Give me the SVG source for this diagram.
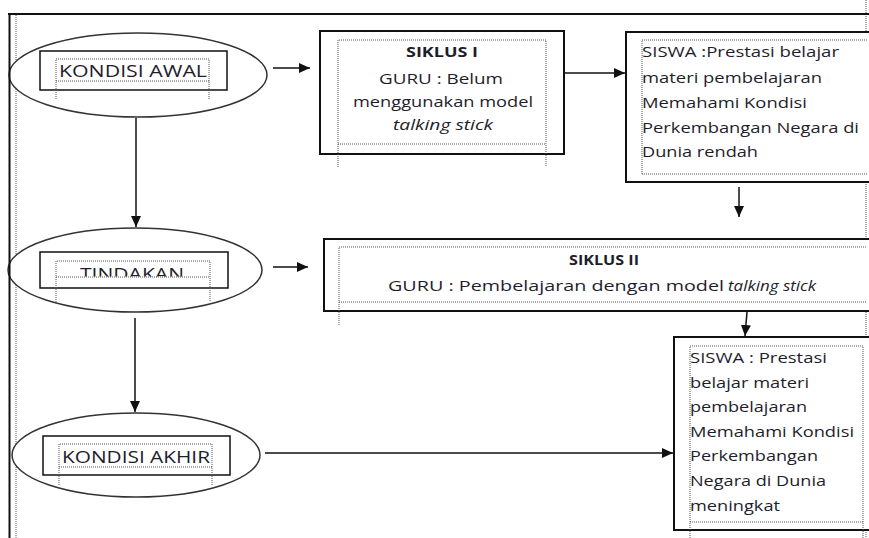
<svg xmlns="http://www.w3.org/2000/svg" width="869" height="538" viewBox="0 0 869 538">
  <style>
    .frame{stroke:#111;stroke-width:2;fill:none}
    .dot{stroke:#555;stroke-width:1;stroke-dasharray:1 1;fill:none}
    .box{fill:#fff;stroke:#111;stroke-width:2}
    .oval{fill:#fff;stroke:#333;stroke-width:1.5}
    .t{font-family:"Open Sans","Liberation Sans",sans-serif;font-size:15px;fill:#1f1d2c}
    .lbl{font-size:17px}
    .b{font-weight:bold;font-size:14px}
    .i{font-style:italic}
    .mid{text-anchor:middle}
    #connectors line{stroke:#111;stroke-width:1.5}
  </style>
  <defs>
    <marker id="ah" markerUnits="userSpaceOnUse" markerWidth="11" markerHeight="10" refX="11" refY="5" orient="auto">
      <path d="M0,0 L11,5 L0,10 z" fill="#111"/>
    </marker>
    <clipPath id="clipTindakan"><rect x="40" y="250" width="190" height="26.5"/></clipPath>
  </defs>
  <rect width="869" height="538" fill="#fff"/>

  <!-- page frame (dotted guides) -->
  <g id="frame-guides">
    <line class="dot" x1="16" y1="15" x2="16" y2="538"/>
    <line class="dot" x1="866" y1="0" x2="866" y2="538"/>
  </g>

  <!-- KONDISI AWAL -->
  <g id="kondisi-awal">
    <ellipse class="oval" cx="138" cy="75" rx="129" ry="42"/>
    <rect class="box" x="40" y="51" width="187" height="39" style="stroke-width:1.5"/>
    <path class="dot" d="M56,99 V59 H209 V99 M56,81 H209"/>
    <text class="t lbl mid" x="133" y="77" textLength="148" lengthAdjust="spacingAndGlyphs">KONDISI AWAL</text>
  </g>

  <!-- TINDAKAN -->
  <g id="tindakan">
    <ellipse class="oval" cx="135" cy="270" rx="127" ry="42"/>
    <rect class="box" x="40" y="252" width="188" height="36" style="stroke-width:1.5"/>
    <path class="dot" d="M56,302 V261 H210 V302 M56,277 H210"/>
    <text class="t lbl mid" x="132" y="280" textLength="104" lengthAdjust="spacingAndGlyphs" clip-path="url(#clipTindakan)">TINDAKAN</text>
  </g>

  <!-- KONDISI AKHIR -->
  <g id="kondisi-akhir">
    <ellipse class="oval" cx="136" cy="455" rx="124" ry="42"/>
    <rect class="box" x="43" y="436" width="187" height="39" style="stroke-width:1.5"/>
    <path class="dot" d="M59,485 V444 H212 V485 M59,467 H212"/>
    <text class="t lbl mid" x="136" y="463" textLength="148" lengthAdjust="spacingAndGlyphs">KONDISI AKHIR</text>
  </g>

  <!-- SIKLUS I -->
  <g id="siklus-1">
    <rect class="box" x="320" y="31" width="244" height="123"/>
    <path class="dot" d="M338,167 V40 H546 V167 M338,144 H546"/>
    <text class="t b mid" x="442" y="57" textLength="72" lengthAdjust="spacingAndGlyphs">SIKLUS I</text>
    <text class="t mid" x="441" y="84" textLength="124" lengthAdjust="spacingAndGlyphs">GURU : Belum</text>
    <text class="t mid" x="443" y="107" textLength="180" lengthAdjust="spacingAndGlyphs">menggunakan model</text>
    <text class="t i mid" x="443" y="130" textLength="100" lengthAdjust="spacingAndGlyphs">talking stick</text>
  </g>

  <!-- SISWA (before) -->
  <g id="siswa-1">
    <rect class="box" x="626" y="32" width="260" height="150"/>
    <path class="dot" d="M642,174 V40 H867 M642,174 H867"/>
    <text class="t" x="642" y="57" textLength="197" lengthAdjust="spacingAndGlyphs">SISWA :Prestasi belajar</text>
    <text class="t" x="642" y="83" textLength="180" lengthAdjust="spacingAndGlyphs">materi pembelajaran</text>
    <text class="t" x="642" y="108" textLength="165" lengthAdjust="spacingAndGlyphs">Memahami Kondisi</text>
    <text class="t" x="642" y="133" textLength="217" lengthAdjust="spacingAndGlyphs">Perkembangan Negara di</text>
    <text class="t" x="642" y="157" textLength="116" lengthAdjust="spacingAndGlyphs">Dunia rendah</text>
  </g>

  <!-- SIKLUS II -->
  <g id="siklus-2">
    <rect class="box" x="324" y="239" width="560" height="72"/>
    <path class="dot" d="M339,325 V247 H867 M339,302 H867"/>
    <text class="t b mid" x="604" y="265" textLength="70" lengthAdjust="spacingAndGlyphs">SIKLUS II</text>
    <text class="t" x="388" y="291" textLength="336" lengthAdjust="spacingAndGlyphs">GURU : Pembelajaran dengan model</text>
    <text class="t i" x="728" y="291" textLength="88" lengthAdjust="spacingAndGlyphs">talking stick</text>
  </g>

  <!-- SISWA (after) -->
  <g id="siswa-2">
    <rect class="box" x="674" y="337" width="210" height="193"/>
    <path class="dot" d="M690,538 V346 H863 V538 M690,522 H863"/>
    <text class="t" x="690" y="363" textLength="137" lengthAdjust="spacingAndGlyphs">SISWA : Prestasi</text>
    <text class="t" x="690" y="387.6" textLength="119" lengthAdjust="spacingAndGlyphs">belajar materi</text>
    <text class="t" x="690" y="412.2" textLength="117" lengthAdjust="spacingAndGlyphs">pembelajaran</text>
    <text class="t" x="690" y="436.8" textLength="164" lengthAdjust="spacingAndGlyphs">Memahami Kondisi</text>
    <text class="t" x="690" y="461.4" textLength="128" lengthAdjust="spacingAndGlyphs">Perkembangan</text>
    <text class="t" x="690" y="486" textLength="136" lengthAdjust="spacingAndGlyphs">Negara di Dunia</text>
    <text class="t" x="690" y="510.6" textLength="90" lengthAdjust="spacingAndGlyphs">meningkat</text>
  </g>

  <!-- connectors -->
  <g id="connectors">
    <line x1="273" y1="68" x2="310" y2="68" marker-end="url(#ah)"/>
    <line x1="564" y1="73" x2="625" y2="73" marker-end="url(#ah)"/>
    <line x1="739" y1="187" x2="739" y2="217" marker-end="url(#ah)"/>
    <line x1="136" y1="118" x2="136" y2="227" marker-end="url(#ah)"/>
    <line x1="273" y1="267" x2="308" y2="267" marker-end="url(#ah)"/>
    <line x1="747" y1="312" x2="745" y2="336" marker-end="url(#ah)"/>
    <line x1="135" y1="318" x2="135" y2="412" marker-end="url(#ah)"/>
    <line x1="265" y1="453" x2="673" y2="453" marker-end="url(#ah)"/>
  </g>

  <!-- page frame (solid edges) -->
  <g id="frame-edges">
    <line class="frame" x1="8" y1="14" x2="869" y2="14"/>
    <line class="frame" x1="9.5" y1="14" x2="9.5" y2="538"/>
  </g>
</svg>
